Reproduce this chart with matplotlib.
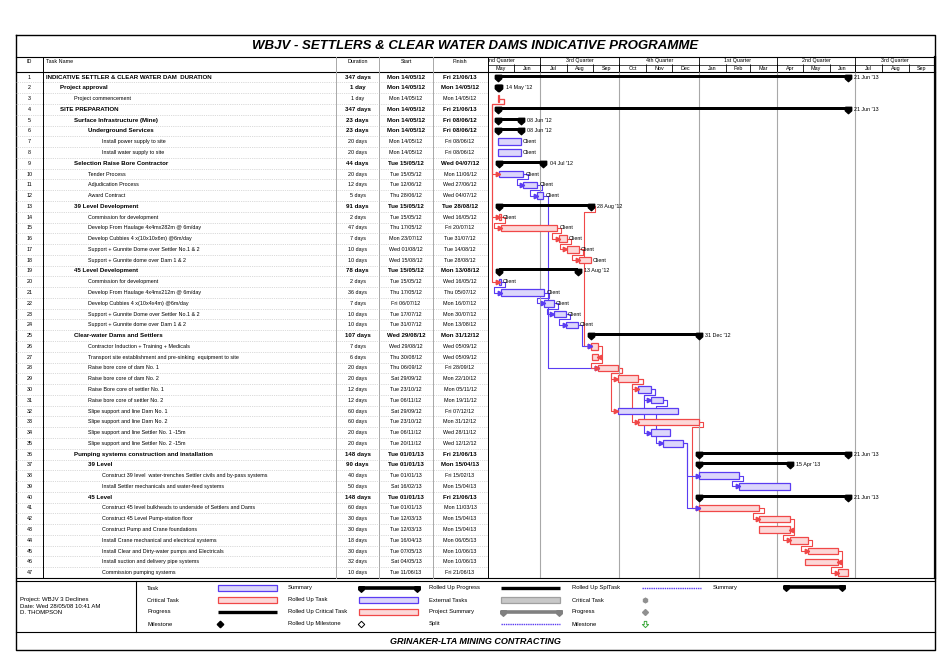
import matplotlib
matplotlib.use('Agg')
import matplotlib.pyplot as plt
import matplotlib.dates as mdates
import pandas as pd
import numpy as np
from matplotlib.patches import Rectangle

plt.rcParams['font.family'] = ['Liberation Sans', 'DejaVu Sans']

# ---- programme data ----
task_names = [
    'INDICATIVE SETTLER & CLEAR WATER DAM  DURATION',
    'Project approval',
    'Project commencement',
    'SITE PREPARATION',
    'Surface Infrastructure (Mine)',
    'Underground Services',
    'Install power supply to site',
    'Install water supply to site',
    'Selection Raise Bore Contractor',
    'Tender Process',
    'Adjudication Process',
    'Award Contract',
    '39 Level Development',
    'Commission for development',
    'Develop From Haulage 4x4mx282m @ 6m/day',
    'Develop Cubbies 4 x(10x10x6m) @6m/day',
    'Support + Gunnite Dome over Settler No.1 & 2',
    'Support + Gunnite dome over Dam 1 & 2',
    '45 Level Development',
    'Commission for development',
    'Develop From Haulage 4x4mx212m @ 6m/day',
    'Develop Cubbies 4 x(10x4x4m) @6m/day',
    'Support + Gunnite Dome over Settler No.1 & 2',
    'Support + Gunnite dome over Dam 1 & 2',
    'Clear-water Dams and Settlers',
    'Contractor Induction + Training + Medicals',
    'Transport site establishment and pre-sinking  equipment to site',
    'Raise bore core of dam No. 1',
    'Raise bore core of dam No. 2',
    'Raise Bore core of settler No. 1',
    'Raise bore core of settler No. 2',
    'Slipe support and line Dam No. 1',
    'Slipe support and line Dam No. 2',
    'Slipe support and line Settler No. 1 -15m',
    'Slipe support and line Settler No. 2 -15m',
    'Pumping systems construction and installation',
    '39 Level',
    'Construct 39 level  water-trenches Settler civils and by-pass systems',
    'Install Settler mechanicals and water-feed systems',
    '45 Level',
    'Construct 45 level bulkheads to underside of Settlers and Dams',
    'Construct 45 Level Pump-station floor',
    'Construct Pump and Crane foundations',
    'Install Crane mechanical and electrical systems',
    'Install Clear and Dirty-water pumps and Electricals',
    'Install suction and delivery pipe systems',
    'Commission pumping systems',
]
levels = [0, 1, 2, 1, 2, 3, 4, 4, 2, 3, 3, 3, 2, 3, 3, 3, 3, 3, 2, 3, 3, 3, 3, 3,
          2, 3, 3, 3, 3, 3, 3, 3, 3, 3, 3, 2, 3, 4, 4, 3, 4, 4, 4, 4, 4, 4, 4]
durations = ['347 days', '1 day', '1 day', '347 days', '23 days', '23 days', '20 days',
             '20 days', '44 days', '20 days', '12 days', '5 days', '91 days', '2 days',
             '47 days', '7 days', '10 days', '10 days', '78 days', '2 days', '36 days',
             '7 days', '10 days', '10 days', '107 days', '7 days', '6 days', '20 days',
             '20 days', '12 days', '12 days', '60 days', '60 days', '20 days', '20 days',
             '148 days', '90 days', '40 days', '50 days', '148 days', '60 days', '30 days',
             '30 days', '18 days', '30 days', '32 days', '10 days']
start_txt = ['Mon 14/05/12', 'Mon 14/05/12', 'Mon 14/05/12', 'Mon 14/05/12', 'Mon 14/05/12',
             'Mon 14/05/12', 'Mon 14/05/12', 'Mon 14/05/12', 'Tue 15/05/12', 'Tue 15/05/12',
             'Tue 12/06/12', 'Thu 28/06/12', 'Tue 15/05/12', 'Tue 15/05/12', 'Thu 17/05/12',
             'Mon 23/07/12', 'Wed 01/08/12', 'Wed 15/08/12', 'Tue 15/05/12', 'Tue 15/05/12',
             'Thu 17/05/12', 'Fri 06/07/12', 'Tue 17/07/12', 'Tue 31/07/12', 'Wed 29/08/12',
             'Wed 29/08/12', 'Thu 30/08/12', 'Thu 06/09/12', 'Sat 29/09/12', 'Tue 23/10/12',
             'Tue 06/11/12', 'Sat 29/09/12', 'Tue 23/10/12', 'Tue 06/11/12', 'Tue 20/11/12',
             'Tue 01/01/13', 'Tue 01/01/13', 'Tue 01/01/13', 'Sat 16/02/13', 'Tue 01/01/13',
             'Tue 01/01/13', 'Tue 12/03/13', 'Tue 12/03/13', 'Tue 16/04/13', 'Tue 07/05/13',
             'Sat 04/05/13', 'Tue 11/06/13']
finish_txt = ['Fri 21/06/13', 'Mon 14/05/12', 'Mon 14/05/12', 'Fri 21/06/13', 'Fri 08/06/12',
              'Fri 08/06/12', 'Fri 08/06/12', 'Fri 08/06/12', 'Wed 04/07/12', 'Mon 11/06/12',
              'Wed 27/06/12', 'Wed 04/07/12', 'Tue 28/08/12', 'Wed 16/05/12', 'Fri 20/07/12',
              'Tue 31/07/12', 'Tue 14/08/12', 'Tue 28/08/12', 'Mon 13/08/12', 'Wed 16/05/12',
              'Thu 05/07/12', 'Mon 16/07/12', 'Mon 30/07/12', 'Mon 13/08/12', 'Mon 31/12/12',
              'Wed 05/09/12', 'Wed 05/09/12', 'Fri 28/09/12', 'Mon 22/10/12', 'Mon 05/11/12',
              'Mon 19/11/12', 'Fri 07/12/12', 'Mon 31/12/12', 'Wed 28/11/12', 'Wed 12/12/12',
              'Fri 21/06/13', 'Mon 15/04/13', 'Fri 15/02/13', 'Mon 15/04/13', 'Fri 21/06/13',
              'Mon 11/03/13', 'Mon 15/04/13', 'Mon 15/04/13', 'Mon 06/05/13', 'Mon 10/06/13',
              'Mon 10/06/13', 'Fri 21/06/13']
# S = summary, T = task, C = critical task
kinds = ['S', 'S', 'C', 'S', 'S', 'S', 'T', 'T', 'S', 'T', 'T', 'T', 'S', 'C', 'C', 'C',
         'C', 'C', 'S', 'T', 'T', 'T', 'T', 'T', 'S', 'C', 'C', 'C', 'C', 'T', 'T', 'T',
         'C', 'T', 'T', 'S', 'S', 'T', 'T', 'S', 'C', 'C', 'C', 'C', 'C', 'C', 'C']
client_rows = [7, 8, 10, 11, 12, 14, 15, 16, 17, 18, 20, 21, 22, 23, 24]
links = [(3, 10, 'FS'), (3, 14, 'FS'), (3, 20, 'FS'), (10, 11, 'FS'), (11, 12, 'FS'),
         (14, 15, 'FS'), (15, 16, 'FS'), (16, 17, 'FS'), (17, 18, 'FS'),
         (20, 21, 'FS'), (21, 22, 'FS'), (22, 23, 'FS'), (23, 24, 'FS'),
         (12, 28, 'FS'), (13, 26, 'FS'), (24, 26, 'FS'), (26, 27, 'FF'), (27, 28, 'FS'),
         (28, 29, 'FS'), (28, 32, 'FS'), (29, 30, 'FS'), (29, 33, 'FS'), (30, 31, 'FS'),
         (30, 34, 'FS'), (31, 35, 'FS'), (33, 41, 'FS'), (35, 38, 'FS'), (35, 41, 'FS'),
         (38, 39, 'FS'), (41, 42, 'FS'), (42, 43, 'FF'), (43, 44, 'FS'), (44, 45, 'FS'),
         (45, 46, 'FF'), (46, 47, 'FS')]
quarter_names = ['1st Quarter', '2nd Quarter', '3rd Quarter', '4th Quarter']
view_start, view_end = '2012-05-02', '2013-10-01'
title = 'WBJV - SETTLERS & CLEAR WATER DAMS INDICATIVE PROGRAMME'
footer = 'GRINAKER-LTA MINING CONTRACTING'
project_info = ['Project: WBJV 3 Declines', 'Date: Wed 28/05/08 10:41 AM', 'D. THOMPSON']

ids = np.arange(1, len(task_names) + 1)
starts = pd.to_datetime([s[4:] for s in start_txt], format='%d/%m/%y')
finishes = pd.to_datetime([s[4:] for s in finish_txt], format='%d/%m/%y')
x0s = mdates.date2num(starts)
x1s = mdates.date2num(finishes) + 1

BLUE, BLUE_FILL = '#5a3cf2', '#dcd6fb'
RED, RED_FILL = '#f04848', '#fcd8d8'
GRID = '#a8a8a8'
FS = 3.9
FS_BOLD = 4.4
cap = [(-1, 1), (1, 1), (1, -0.1), (0, -1), (-1, -0.1), (-1, 1)]

W, H = 952, 666
fig = plt.figure(figsize=(W / 100, H / 100), dpi=100)


def box(xa, ya, xb, yb):
    return [xa / W, 1 - yb / H, (xb - xa) / W, (yb - ya) / H]


# background layer for frame, headers and legend (pixel coords)
bg = fig.add_axes([0, 0, 1, 1])
bg.set_xlim(0, W)
bg.set_ylim(H, 0)
bg.axis('off')

L, R, T, B = 16, 935, 35, 650
HDR_TOP, HDR_BOT, TBL_BOT = 57, 71.7, 578
bg.plot([L, R, R, L, L], [T, T, B, B, T], color='black', lw=1)
bg.plot([L, R], [HDR_TOP, HDR_TOP], color='black', lw=0.8)
bg.plot([L, R], [HDR_BOT, HDR_BOT], color='black', lw=0.8)
bg.plot([488, R], [64.5, 64.5], color='black', lw=0.5)
bg.plot([L, R], [TBL_BOT, TBL_BOT], color='black', lw=0.8)
bg.plot([L, R], [581, 581], color='black', lw=0.8)
bg.plot([L, R], [632, 632], color='black', lw=0.8)
bg.plot([136, 136], [581, 632], color='black', lw=0.8)
bg.plot([R, R], [HDR_TOP, TBL_BOT], color='black', lw=1.6)
for xc, c in [(43, 'black'), (336, GRID), (379, GRID), (433, GRID), (488, 'black')]:
    bg.plot([xc, xc], [HDR_TOP, TBL_BOT], color=c, lw=0.7)

bg.text((L + R) / 2, 46, title, ha='center', va='center', fontsize=9.5,
        fontweight='bold', fontstyle='italic')
bg.text((L + R) / 2, 641, footer, ha='center', va='center', fontsize=6.5,
        fontweight='bold', fontstyle='italic')
for x, s, ha in [(29.5, 'ID', 'center'), (46, 'Task Name', 'left'), (357.5, 'Duration', 'center'),
                 (406, 'Start', 'center'), (460, 'Finish', 'center')]:
    bg.text(x, 61.5, s, ha=ha, va='center', fontsize=FS)

# ---- table ----
ax_t = fig.add_axes(box(L, HDR_BOT, 488, TBL_BOT))
ax_t.set_xlim(L, 488)
ax_t.set_ylim(len(ids) + 0.5, 0.5)
ax_t.axis('off')
ax_t.hlines(np.arange(1.5, len(ids)), L, 488, color='#b8b8b8', lw=0.5, linestyles=':')
for i, row in enumerate(ids):
    bold = kinds[i] == 'S'
    w = 'bold' if bold else 'normal'
    fs = FS_BOLD if bold else FS
    ax_t.text(29.5, row, str(row), ha='center', va='center', fontsize=FS)
    ax_t.text(46 + 14 * levels[i], row, task_names[i], ha='left', va='center', fontsize=fs, fontweight=w)
    ax_t.text(357.5, row, durations[i], ha='center', va='center', fontsize=fs, fontweight=w)
    ax_t.text(406, row, start_txt[i], ha='center', va='center', fontsize=fs, fontweight=w)
    ax_t.text(460, row, finish_txt[i], ha='center', va='center', fontsize=fs, fontweight=w)

# ---- gantt ----
ax_g = fig.add_axes(box(488, HDR_BOT, R, TBL_BOT))
ax_g.set_xlim(mdates.datestr2num(view_start), mdates.datestr2num(view_end))
ax_g.set_ylim(len(ids) + 0.5, 0.5)
ax_g.axis('off')

quarters = pd.date_range('2012-04-01', '2013-10-01', freq='QS')
months = pd.date_range('2012-04-01', '2013-10-01', freq='MS')
ax_g.vlines(mdates.date2num(quarters), 0.5, len(ids) + 0.5, color=GRID, lw=0.8)

# links (drawn under the bars)
d_out, d_in = 5, 8
for p, s, kind in links:
    pi, si = p - 1, s - 1
    col = BLUE if kinds[pi] == 'T' else RED
    xa, ya = x1s[pi], p
    if kind == 'FF':
        xb = x1s[si]
        xs = [xa, xa + d_out, xa + d_out, xb]
        ys = [ya, ya, s, s]
        ax_g.plot(xs, ys, color=col, lw=0.8, zorder=1)
        ax_g.plot(xb + 1.4, s, marker='<', ms=3.2, color=col, zorder=4)
        continue
    xb = x0s[si]
    if xb > xa + d_out + 2:
        xs = [xa, xa + d_out, xa + d_out, xb]
        ys = [ya, ya, s, s]
    else:
        xs = [xa, xa + d_out, xa + d_out, xb - d_in, xb - d_in, xb]
        ys = [ya, ya, ya + 0.5, ya + 0.5, s, s]
    ax_g.plot(xs, ys, color=col, lw=0.8, zorder=1)
    ax_g.plot(xb - 1.4, s, marker='>', ms=3.2, color=col, zorder=4)

for i, row in enumerate(ids):
    k = kinds[i]
    if k == 'S':
        ax_g.barh(row - 0.1, x1s[i] - x0s[i], left=x0s[i], height=0.28, color='black', zorder=3)
        ax_g.plot([x0s[i], x1s[i]], [row + 0.05, row + 0.05], ls='none', marker=cap, ms=4.6,
                  color='black', zorder=3)
        ax_g.text(x1s[i] + 7.5, row, finishes[i].strftime("%d %b '%y"), va='center', fontsize=FS)
    else:
        ec, fc = (RED, RED_FILL) if k == 'C' else (BLUE, BLUE_FILL)
        ax_g.barh(row, x1s[i] - x0s[i], left=x0s[i], height=0.6, color=fc, edgecolor=ec,
                  lw=0.9, zorder=3)
        if row in client_rows:
            ax_g.text(x1s[i] + 2.5, row, 'Client', va='center', fontsize=FS, zorder=5)

# ---- timescale header ----
ax_h = fig.add_axes(box(488, HDR_TOP, R, HDR_BOT), sharex=ax_g)
ax_h.set_ylim(2, 0)
ax_h.axis('off')
qn = mdates.date2num(quarters)
mn = mdates.date2num(months)
ax_h.vlines(qn, 0, 2, color='black', lw=0.6)
ax_h.vlines(mn, 1, 2, color='black', lw=0.6)
for a, b, q in zip(qn[:-1], qn[1:], quarters[:-1]):
    ax_h.text((a + b) / 2, 0.5, quarter_names[(q.month - 1) // 3], ha='center', va='center',
              fontsize=FS, clip_on=True)
for a, b, m in zip(mn[:-1], mn[1:], months[:-1]):
    ax_h.text((a + b) / 2, 1.5, m.strftime('%b'), ha='center', va='center', fontsize=FS,
              clip_on=True)

# ---- legend ----
for j, s in enumerate(project_info):
    bg.text(20, 599 + 7 * j, s, va='center', fontsize=4.3)

leg_rows = [588, 600, 612, 624]
leg_cols = [(147, 218), (288, 359), (429, 501), (572, 642), (713, 784)]
leg_labels = [['Task', 'Critical Task', 'Progress', 'Milestone'],
              ['Summary', 'Rolled Up Task', 'Rolled Up Critical Task', 'Rolled Up Milestone'],
              ['Rolled Up Progress', 'External Tasks', 'Project Summary', 'Split'],
              ['Rolled Up SplTask', 'Critical Task', 'Progress', 'Milestone'],
              ['Summary']]
for (lx, sx), labels in zip(leg_cols, leg_labels):
    for y, s in zip(leg_rows, labels):
        bg.text(lx, y, s, va='center', fontsize=4.2)


def leg_rect(x, y, fc, ec):
    bg.add_patch(Rectangle((x, y - 2.6), 59, 5.2, facecolor=fc, edgecolor=ec, lw=0.9))


def leg_summary(x, y, c):
    bg.plot([x, x + 59], [y - 0.5, y - 0.5], color=c, lw=2.6, solid_capstyle='butt')
    bg.plot([x + 1.5, x + 57.5], [y + 0.5, y + 0.5], ls='none', marker=cap, ms=4, color=c)


sx = [c[1] for c in leg_cols]
leg_rect(sx[0], leg_rows[0], BLUE_FILL, BLUE)
leg_rect(sx[0], leg_rows[1], RED_FILL, RED)
bg.plot([sx[0], sx[0] + 59], [leg_rows[2]] * 2, color='black', lw=2.4, solid_capstyle='butt')
bg.plot(sx[0] + 2, leg_rows[3], marker='D', ms=3.3, color='black')
leg_summary(sx[1], leg_rows[0], 'black')
leg_rect(sx[1], leg_rows[1], BLUE_FILL, BLUE)
leg_rect(sx[1], leg_rows[2], RED_FILL, RED)
bg.plot(sx[1] + 2, leg_rows[3], marker='D', ms=3.3, mfc='white', mec='black', mew=0.7)
bg.plot([sx[2], sx[2] + 59], [leg_rows[0]] * 2, color='black', lw=2.4, solid_capstyle='butt')
leg_rect(sx[2], leg_rows[1], '#c8c8c8', '#a0a0a0')
leg_summary(sx[2], leg_rows[2], '#808080')
bg.plot([sx[2], sx[2] + 59], [leg_rows[3]] * 2, color=BLUE, lw=1, ls=(0, (1, 0.6)))
bg.plot([sx[3], sx[3] + 59], [leg_rows[0]] * 2, color=BLUE, lw=1, ls=(0, (1, 0.6)))
bg.plot(sx[3] + 3, leg_rows[1], marker='h', ms=3.3, color='#909090')
bg.plot(sx[3] + 3, leg_rows[2], marker='D', ms=3, color='#909090')
down_arrow = [(-0.4, 1), (0.4, 1), (0.4, 0), (1, 0), (0, -1), (-1, 0), (-0.4, 0), (-0.4, 1)]
bg.plot(sx[3] + 3, leg_rows[3], marker=down_arrow, ms=4.5, mfc='none', mec='#3aa83a', mew=0.7)
leg_summary(sx[4], leg_rows[0] - 1, 'black')

fig.savefig('out.png', dpi=100)
